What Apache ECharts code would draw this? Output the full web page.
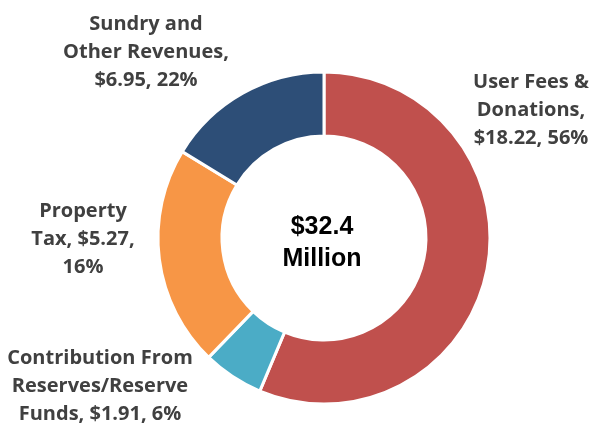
<!DOCTYPE html>
<html lang="en">
<head>
    <meta charset="UTF-8">
    <title>Revenue Donut</title>
    <style type="text/css">
        html, body { margin: 0; padding: 0; background: #fff; }
        #donut { width: 592px; height: 429px; }
    </style>
</head>
<body>
    <div id="donut"></div>
    <script src="https://cdn.jsdelivr.net/npm/echarts@6/dist/echarts.min.js"></script>
    <script type="text/javascript">
        // slices in drawing order (clockwise from 12 o'clock), $ millions.
        // note: in the picture the orange slice is the bigger one (~21%) and the
        // navy one the smaller (~16%), although the labels beside them read the other way round
        var categories = ['User Fees & Donations', 'Contribution From Reserves/Reserve Funds', 'Property Tax', 'Sundry and Other Revenues'];
        var values = [18.22, 1.91, 6.95, 5.27];
        // label texts as printed next to each slice
        var labelLines = [
            ['User Fees &', 'Donations,', '$18.22, 56%'],
            ['Contribution From', 'Reserves/Reserve', 'Funds, $1.91, 6%'],
            ['Property', 'Tax, $5.27,', '16%'],
            ['Sundry and', 'Other Revenues,', '$6.95, 22%']
        ];
        var totalText = ['$32.4', 'Million'];

        var colors = ['#C0504D', '#4BACC6', '#F79646', '#2D4E77'];
        // where each label block sits
        var labelPos = [[531, 110], [100, 386], [83, 239], [146, 52]];

        var pieData = [];
        for (var i = 0; i < categories.length; i++) {
            pieData.push({ name: categories[i], value: values[i], itemStyle: { color: colors[i] } });
        }

        var myPie = echarts.init(document.getElementById('donut'));
        var option = {
            animation: false,
            graphic: [
                {
                    type: 'text',
                    x: 322,
                    y: 243,
                    style: {
                        text: totalText.join('\n'),
                        fontFamily: 'Liberation Sans, Arial, sans-serif',
                        fontWeight: 'bold',
                        fontSize: 25,
                        lineHeight: 32,
                        fill: '#000',
                        align: 'center',
                        verticalAlign: 'middle'
                    }
                }
            ],
            series: [
                {
                    type: 'pie',
                    center: [324, 238],
                    radius: [102, 166],
                    startAngle: 90,
                    clockwise: true,
                    itemStyle: {
                        borderColor: '#fff',
                        borderWidth: 3
                    },
                    label: {
                        show: true,
                        position: 'outside',
                        formatter: function (params) {
                            return labelLines[params.dataIndex].join('\n');
                        },
                        fontFamily: 'Open Sans, sans-serif',
                        fontWeight: 'bold',
                        fontSize: 20,
                        lineHeight: 28,
                        color: '#404040',
                        align: 'center',
                        overflow: 'none'
                    },
                    labelLine: { show: false },
                    labelLayout: function (params) {
                        var p = labelPos[params.dataIndex];
                        return { x: p[0], y: p[1], align: 'center', verticalAlign: 'middle' };
                    },
                    emphasis: { disabled: true },
                    data: pieData
                }
            ]
        };
        myPie.setOption(option);
    </script>
</body>
</html>
